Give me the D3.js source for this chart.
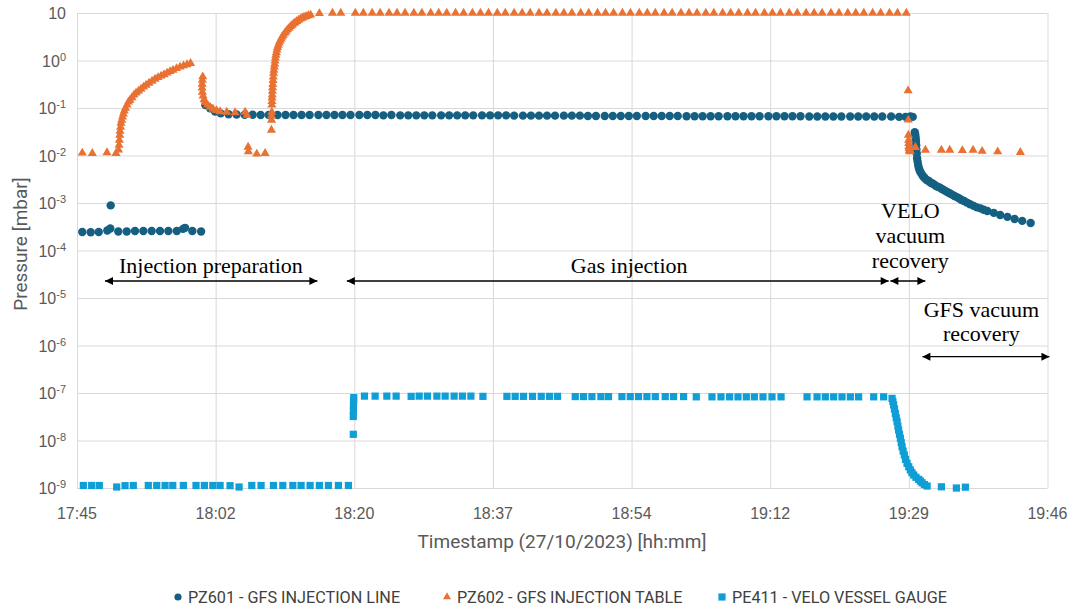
<!DOCTYPE html>
<html>
<head>
<meta charset="utf-8">
<script src="https://cdn.jsdelivr.net/npm/d3@7"></script>
<style>
  body { margin: 0; background: #fff; }
  svg { display: block; }
</style>
</head>
<body>
<svg id="chart" width="1073" height="610"></svg>
<script>
// time is in minutes after 17:45 (27/10/2023), pressure in mbar

const xTickLabels = ["17:45", "18:02", "18:20", "18:37", "18:54", "19:12", "19:29", "19:46"];
const yTickValues = [1e-9, 1e-8, 1e-7, 1e-6, 1e-5, 1e-4, 1e-3, 1e-2, 1e-1, 1, 10];

const seriesNames = ["PZ601 - GFS INJECTION LINE", "PZ602 - GFS INJECTION TABLE", "PE411 - VELO VESSEL GAUGE"];

// PZ601 - GFS injection line
const pz601 = [
  [0.66,2.45e-4],[1.71,2.42e-4],[2.71,2.45e-4],[3.78,2.64e-4],[4.15,2.9e-4],[4.2,8.9e-4],
  [5.15,2.52e-4],[6.2,2.52e-4],[7.23,2.58e-4],[8.27,2.58e-4],[9.31,2.58e-4],[10.35,2.58e-4],
  [11.39,2.58e-4],[12.44,2.58e-4],[13.22,2.85e-4],[13.47,3.0e-4],[14.38,2.58e-4],[15.47,2.52e-4],
  [16.0,0.115],[16.59,0.099],[17.21,0.084],[17.92,0.077],
  [18.9,0.074],[19.9,0.073],[20.9,0.072],[21.9,0.072],[22.9,0.071],[23.9,0.071],[25.0,0.071],
  [26.0,0.071],[27.0,0.071],[28.0,0.071],[29.0,0.071],[30.1,0.071],[31.1,0.071],[32.1,0.071],
  [33.1,0.071],[34.1,0.071],[35.2,0.071],[36.2,0.071],[37.2,0.071],[38.2,0.070],[39.2,0.071],
  [40.3,0.070],[41.3,0.070],[42.3,0.070],[43.3,0.070],[44.3,0.070],[45.4,0.070],[46.4,0.070],
  [47.4,0.070],[48.4,0.070],[49.4,0.070],[50.5,0.070],[51.5,0.070],[52.5,0.070],[53.5,0.070],
  [54.5,0.069],[55.6,0.069],[56.6,0.069],[57.6,0.069],[58.6,0.069],[59.6,0.069],[60.7,0.069],
  [61.7,0.069],[62.7,0.069],[63.7,0.068],[64.7,0.068],[65.8,0.068],[66.8,0.068],[67.8,0.068],
  [68.8,0.068],[69.8,0.068],[70.9,0.068],[71.9,0.068],[72.9,0.068],[73.9,0.068],[74.9,0.068],
  [76.0,0.067],[77.0,0.067],[78.0,0.067],[79.0,0.067],[80.0,0.067],[81.1,0.067],[82.1,0.067],
  [83.1,0.067],[84.1,0.067],[85.1,0.067],[86.2,0.067],[87.2,0.067],[88.2,0.067],[89.2,0.067],
  [90.2,0.067],[91.3,0.066],[92.3,0.066],[93.3,0.066],[94.3,0.066],[95.3,0.066],[96.4,0.066],
  [97.4,0.066],[98.4,0.066],[99.4,0.066],[100.4,0.066],[101.5,0.066],[102.5,0.065],[103.3,0.065],
  [103.9,0.066],[104.2,0.065],
  [104.45,0.031],[104.5,0.028],[104.53,0.025],[104.57,0.022],[104.6,0.0195],[104.63,0.0165],
  [104.65,0.0135],[104.7,0.011],[104.74,0.0088],[104.8,0.0075],[104.87,0.0063],[104.95,0.0055],
  [105.05,0.0049],[105.15,0.0045],[105.3,0.0041],[105.45,0.0037],[105.6,0.0035],[105.8,0.0032],
  [106.0,0.0030],[106.2,0.0029],[106.4,0.0027],[106.6,0.0026],[106.8,0.0025],[107.05,0.0023],
  [107.3,0.0022],[107.6,0.0021],[107.9,0.00195],[108.2,0.00182],[108.5,0.0017],[108.8,0.0016],
  [109.1,0.0015],[109.4,0.0014],[109.7,0.00133],[110.0,0.00124],[110.3,0.00116],[110.6,0.0011],
  [110.95,0.00102],[111.35,0.00094],[111.8,0.00087],[112.2,0.00081],[112.65,0.00077],
  [113.05,0.00072],[113.5,0.00068],[114.3,0.00062],[115.1,0.00056],[116.0,0.00051],
  [116.9,0.00046],[117.85,0.00042],[118.9,0.00038]
];

// PZ602 - GFS injection table
const pz602 = [
  [0.66,0.0113],[1.91,0.0111],[3.74,0.0115],[4.86,0.0111],
  [5.18,0.0131],[5.24,0.0166],[5.28,0.0212],[5.33,0.027],[5.36,0.0328],[5.43,0.0398],
  [5.49,0.0483],[5.58,0.0559],[5.68,0.0647],[5.78,0.0748],[5.9,0.0865],[6.05,0.1],
  [6.24,0.116],[6.42,0.134],[6.61,0.147],[6.86,0.166],[7.11,0.188],[7.36,0.207],
  [7.67,0.228],[7.98,0.251],[8.29,0.277],[8.61,0.305],[8.98,0.336],[9.36,0.37],
  [9.73,0.408],[10.1,0.439],[10.48,0.472],[10.85,0.507],[11.23,0.546],[11.6,0.587],
  [11.97,0.631],[12.41,0.679],[12.85,0.73],[13.28,0.778],[13.72,0.824],[14.16,0.873],
  [15.68,0.456],[15.63,0.388],[15.6,0.32],[15.6,0.264],[15.63,0.217],[15.72,0.179],
  [15.84,0.151],[16.03,0.131],[16.28,0.116],[16.59,0.105],[16.96,0.095],[17.4,0.089],
  [17.84,0.084],[18.67,0.082],[19.71,0.080],[20.96,0.082],[21.2,0.071],
  [21.33,0.0151],[21.37,0.0121],[22.41,0.0108],[23.45,0.0111],
  [24.24,0.0344],[24.26,0.0559],[24.27,0.068],[24.29,0.0824],[24.3,0.116],[24.31,0.138],
  [24.32,0.1625],[24.34,0.19],[24.36,0.228],[24.38,0.27],[24.41,0.32],[24.44,0.38],
  [24.47,0.45],[24.51,0.54],[24.55,0.631],[24.6,0.73],[24.64,0.844],[24.69,0.98],
  [24.74,1.13],[24.8,1.3],[24.86,1.47],[24.93,1.67],[25.01,1.88],[25.1,2.1],[25.2,2.34],
  [25.32,2.6],[25.45,2.84],[25.58,3.15],[25.73,3.44],[25.9,3.75],[26.07,4.08],[26.25,4.45],
  [26.44,4.83],[26.63,5.2],[26.82,5.59],[27.0,5.95],[27.19,6.31],[27.4,6.7],[27.63,7.12],
  [27.85,7.5],[28.07,7.85],[28.3,8.2],[28.56,8.53],[28.85,8.8],[29.13,9.08],[30.22,9.8],
  [31.85,10],[32.89,10],
  [34.7,10],[35.7,10],[36.8,10],[37.8,10],[38.9,10],[39.9,10],[40.9,10],[42.0,10],[43.0,10],
  [44.1,10],[45.1,10],[46.1,10],[47.2,10],[48.2,10],[49.3,10],[50.3,10],[51.3,10],[52.4,10],
  [53.4,10],[54.5,10],[55.5,10],[56.5,10],[57.6,10],[58.6,10],[59.7,10],[60.7,10],[61.7,10],
  [62.8,10],[63.8,10],[64.9,10],[65.9,10],[66.9,10],[68.0,10],[69.0,10],[70.1,10],[71.1,10],
  [72.1,10],[73.2,10],[74.2,10],[75.3,10],[76.3,10],[77.3,10],[78.4,10],[79.4,10],[80.5,10],
  [81.5,10],[82.5,10],[83.6,10],[84.6,10],[85.7,10],[86.7,10],[87.7,10],[88.8,10],[89.8,10],
  [90.9,10],[91.9,10],[92.9,10],[94.0,10],[95.0,10],[96.1,10],[97.1,10],[98.1,10],[99.2,10],
  [100.2,10],[101.3,10],[102.3,10],[103.4,10],
  [103.62,0.231],[103.64,0.056],[103.66,0.027],[103.68,0.021],[103.7,0.0181],[103.72,0.0155],
  [103.74,0.0142],[103.78,0.0128],[103.82,0.012],[103.9,0.0125],[104.53,0.0149],
  [105.78,0.013],[107.77,0.013],[108.81,0.013],[110.39,0.0128],[111.72,0.013],
  [112.85,0.0123],[114.79,0.012],[117.62,0.0117]
];

// PE411 - VELO vessel gauge
const pe411 = [
  [0.79,1.13e-9],[1.83,1.13e-9],[2.78,1.13e-9],[4.95,1.05e-9],[5.99,1.12e-9],[7.02,1.13e-9],
  [8.89,1.13e-9],[9.94,1.13e-9],[10.98,1.13e-9],[11.94,1.13e-9],[13.26,1.13e-9],[14.84,1.13e-9],
  [15.88,1.13e-9],[16.93,1.13e-9],[17.84,1.13e-9],[19.08,1.12e-9],[20.21,1.05e-9],[21.79,1.13e-9],
  [22.95,1.13e-9],[24.49,1.13e-9],[25.66,1.13e-9],[26.91,1.13e-9],[27.94,1.13e-9],[29.06,1.13e-9],
  [30.22,1.13e-9],[31.35,1.13e-9],[32.59,1.13e-9],[33.84,1.13e-9],
  [34.45,1.35e-8],[34.45,3.2e-8],[34.46,4.2e-8],[34.47,5.5e-8],[34.48,6.8e-8],[34.5,8.0e-8],
  [35.84,8.6e-8],[37.17,8.6e-8],[38.63,8.6e-8],[39.79,8.6e-8],[41.66,8.5e-8],[42.66,8.6e-8],
  [43.69,8.6e-8],[44.87,8.6e-8],[45.9,8.6e-8],[47.02,8.6e-8],[48.06,8.6e-8],[49.11,8.6e-8],
  [50.61,8.5e-8],[53.6,8.5e-8],[54.63,8.5e-8],[55.67,8.5e-8],[56.79,8.5e-8],[57.88,8.5e-8],
  [58.91,8.5e-8],[59.91,8.5e-8],[62.12,8.4e-8],[63.15,8.4e-8],[64.2,8.4e-8],[65.32,8.4e-8],
  [66.27,8.4e-8],[67.94,8.4e-8],[68.98,8.4e-8],[70.01,8.4e-8],[71.06,8.4e-8],[72.1,8.4e-8],
  [73.34,8.4e-8],[74.38,8.4e-8],[75.63,8.4e-8],[77.21,8.3e-8],[79.17,8.3e-8],[80.29,8.3e-8],
  [81.37,8.3e-8],[82.41,8.3e-8],[83.45,8.3e-8],[84.45,8.3e-8],[85.53,8.3e-8],[86.65,8.3e-8],
  [87.78,8.3e-8],[91.02,8.3e-8],[92.27,8.3e-8],[93.3,8.3e-8],[94.34,8.3e-8],[95.38,8.3e-8],
  [96.42,8.3e-8],[97.45,8.3e-8],[99.33,8.3e-8],[100.57,8.3e-8],
  [101.62,7.7e-8],[101.72,6.6e-8],[101.82,5.6e-8],[101.92,4.6e-8],[102.03,3.7e-8],
  [102.14,3.0e-8],[102.25,2.5e-8],[102.35,2.0e-8],[102.44,1.66e-8],[102.55,1.35e-8],
  [102.66,1.11e-8],[102.77,9.0e-9],[102.87,7.4e-9],[103.0,6.0e-9],[103.15,4.95e-9],
  [103.3,4.0e-9],[103.49,3.3e-9],[103.7,2.8e-9],[103.9,2.4e-9],[104.1,2.1e-9],
  [104.32,1.88e-9],[104.6,1.68e-9],[104.94,1.52e-9],[105.15,1.4e-9],[105.36,1.29e-9],
  [105.65,1.18e-9],[105.99,1.1e-9],[107.77,1.06e-9],[109.64,1.0e-9],[110.76,1.04e-9]
];

// phase annotations (double arrows)
const phaseLines = [["Injection preparation"], ["Gas injection"], ["VELO", "vacuum", "recovery"], ["GFS vacuum", "recovery"]];
const phaseStart = [3.49, 33.64, 101.41, 105.4];
const phaseEnd = [29.97, 101.2, 105.77, 121.24];
const phaseLevel = [2.28e-5, 2.28e-5, 2.28e-5, 5.81e-7];
const phaseTextAt = [16.7, 68.85, 103.9, 112.76];

const colors = ["#156082", "#E97132", "#0F9ED5"];

const svg = d3.select("#chart");
const plotLeft = 77, plotRight = 1047.5, plotTop = 13, plotBottom = 488;

const x = d3.scaleLinear().domain([0, 121]).range([plotLeft, plotRight]);
const y = d3.scaleLog().domain([1e-9, 10]).range([plotBottom, plotTop]);
const xTicks = xTickLabels.map((d, i) => i * 121 / 7);

// gridlines
svg.append("g")
  .attr("transform", "translate(0," + plotBottom + ")")
  .call(d3.axisBottom(x).tickValues(xTicks).tickSize(-(plotBottom - plotTop)).tickFormat(""))
  .call(g => g.select(".domain").remove())
  .call(g => g.selectAll("line").attr("stroke", "#d9d9d9"));

svg.append("g")
  .attr("transform", "translate(" + plotLeft + ",0)")
  .call(d3.axisLeft(y).tickValues(yTickValues).tickSize(-(plotRight - plotLeft)).tickFormat(""))
  .call(g => g.select(".domain").remove())
  .call(g => g.selectAll("line").attr("stroke", "#d9d9d9"));

// x tick labels
svg.append("g")
  .selectAll("text")
  .data(xTicks)
  .enter()
  .append("text")
  .attr("x", d => x(d))
  .attr("y", 519)
  .attr("text-anchor", "middle")
  .style("font-family", "'Liberation Sans', Arial, sans-serif")
  .style("font-size", "16px")
  .style("fill", "#595959")
  .text((d, i) => xTickLabels[i]);

// y tick labels 10^n
const yLabels = svg.append("g")
  .selectAll("text")
  .data(yTickValues)
  .enter()
  .append("text")
  .attr("x", 66)
  .attr("y", d => y(d) + 6)
  .attr("text-anchor", "end")
  .style("font-family", "'Liberation Sans', Arial, sans-serif")
  .style("font-size", "16px")
  .style("fill", "#595959");

yLabels.append("tspan").text("10");
yLabels.filter(d => d < 10)
  .append("tspan")
  .attr("dy", -6)
  .style("font-size", "11px")
  .text(d => String(Math.round(Math.log10(d))));

// axis titles
svg.append("text")
  .attr("x", 562)
  .attr("y", 548)
  .attr("text-anchor", "middle")
  .style("font-family", "Roboto, sans-serif")
  .style("font-size", "19px")
  .style("fill", "#595959")
  .text("Timestamp (27/10/2023) [hh:mm]");

svg.append("text")
  .attr("transform", "translate(27,244) rotate(-90)")
  .attr("text-anchor", "middle")
  .style("font-family", "Roboto, sans-serif")
  .style("font-size", "19px")
  .style("fill", "#595959")
  .text("Pressure [mbar]");

// markers
const plot = svg.append("g");

plot.selectAll("circle.pz601")
  .data(pz601)
  .enter()
  .append("circle")
  .attr("class", "pz601")
  .attr("cx", d => x(d[0]))
  .attr("cy", d => y(d[1]))
  .attr("r", 4.2)
  .attr("fill", colors[0]);

const tri = d3.symbol().type(d3.symbolTriangle).size(36);
plot.selectAll("path.pz602")
  .data(pz602)
  .enter()
  .append("path")
  .attr("class", "pz602")
  .attr("d", tri)
  .attr("transform", d => "translate(" + x(d[0]) + "," + y(d[1]) + ")")
  .attr("fill", colors[1]);

plot.selectAll("rect.pe411")
  .data(pe411)
  .enter()
  .append("rect")
  .attr("class", "pe411")
  .attr("x", d => x(d[0]) - 3.6)
  .attr("y", d => y(d[1]) - 3.6)
  .attr("width", 7.2)
  .attr("height", 7.2)
  .attr("fill", colors[2]);

// phase annotations
svg.append("defs").append("marker")
  .attr("id", "head")
  .attr("viewBox", "0 0 10 10")
  .attr("refX", 10)
  .attr("refY", 5)
  .attr("markerWidth", 11)
  .attr("markerHeight", 8)
  .attr("markerUnits", "userSpaceOnUse")
  .attr("orient", "auto-start-reverse")
  .append("path")
  .attr("d", "M0,0L10,5L0,10Z")
  .attr("fill", "#000");

const lineOffsets = [[-8], [-8], [-63, -38, -13], [-40, -16]];

phaseLines.forEach((lines, i) => {
  const yy = y(phaseLevel[i]);
  svg.append("line")
    .attr("x1", x(phaseStart[i]))
    .attr("x2", x(phaseEnd[i]))
    .attr("y1", yy)
    .attr("y2", yy)
    .attr("stroke", "#000")
    .attr("stroke-width", 1.3)
    .attr("marker-start", "url(#head)")
    .attr("marker-end", "url(#head)");

  lines.forEach((s, j) => {
    svg.append("text")
      .attr("x", x(phaseTextAt[i]))
      .attr("y", yy + lineOffsets[i][j])
      .attr("text-anchor", "middle")
      .style("font-family", "'Liberation Serif', 'Times New Roman', serif")
      .style("font-size", "22px")
      .style("fill", "#000")
      .text(s);
  });
});

// legend
const legendX = [178, 447, 722];
const legend = svg.append("g")
  .selectAll("g")
  .data(seriesNames)
  .enter()
  .append("g")
  .attr("transform", (d, i) => "translate(" + legendX[i] + ",597)");

legend.each(function(d, i) {
  const g = d3.select(this);
  if (i == 0) {
    g.append("circle").attr("r", 3.6).attr("fill", colors[0]);
  } else if (i == 1) {
    g.append("path").attr("d", d3.symbol().type(d3.symbolTriangle).size(28)).attr("fill", colors[1]);
  } else {
    g.append("rect").attr("x", -3.6).attr("y", -3.6).attr("width", 7.2).attr("height", 7.2).attr("fill", colors[2]);
  }
  g.append("text")
    .attr("x", 10)
    .attr("y", 5.8)
    .style("font-family", "Roboto, sans-serif")
    .style("font-size", "16.2px")
    .style("fill", "#404040")
    .text(d);
});
</script>
</body>
</html>
